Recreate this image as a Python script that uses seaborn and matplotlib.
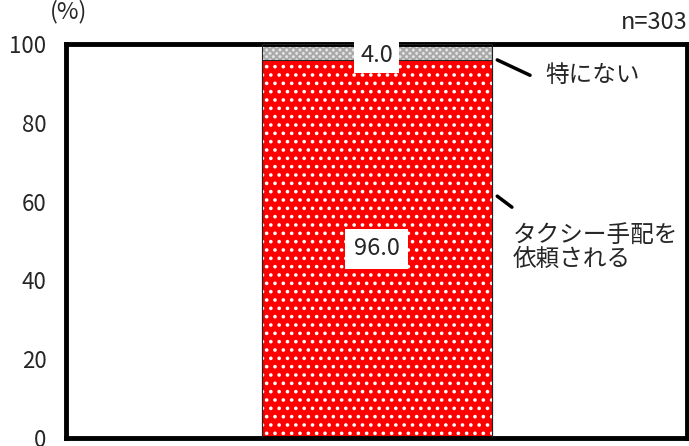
import numpy as np
import pandas as pd
import matplotlib
matplotlib.use("Agg")
import matplotlib.pyplot as plt
import seaborn as sns

# data
categories = [""]
taxi = [96.0]
nothing = [4.0]
labels = ["タクシー手配を\n依頼される", "特にない"]
n_text = "n=303"

sns.set_style("white")
plt.rcParams['font.family'] = ['Noto Sans CJK JP', 'DejaVu Sans']
plt.rcParams['hatch.linewidth'] = 1.4

df = pd.DataFrame({"cat": categories,
                   "taxi": taxi,
                   "total": np.array(taxi) + np.array(nothing)})

fig = plt.figure(figsize=(6.89, 4.46), dpi=100)
ax = fig.add_axes([0.0958, 0.018, 0.9013, 0.883])

# top segment (total) in gray check, then red dotted
sns.barplot(data=df, x="cat", y="total", ax=ax, color="#e4e4e4", width=0.8,
            saturation=1, edgecolor="#a8a8a8", hatch="xxxxx", linewidth=0)
sns.barplot(data=df, x="cat", y="taxi", ax=ax, color="#ff0000", width=0.8,
            saturation=1, edgecolor="white", hatch="..", linewidth=0)
for p in ax.patches:
    ax.add_patch(plt.Rectangle((p.get_x(), p.get_y()), p.get_width(), p.get_height(),
                               fill=False, edgecolor="#222222", linewidth=0.8, zorder=3))

ax.set_xlim(-1.08, 1.08)
ax.set_ylim(0, 100)
ax.set_yticks([0, 20, 40, 60, 80, 100])
ax.set_xticks([])
ax.set_xlabel("")
ax.set_ylabel("")
ax.tick_params(axis="y", labelsize=16, length=0, pad=14)
for s in ax.spines.values():
    s.set_linewidth(3.5)
    s.set_color("black")

ax.text(0, 97.0, f"{nothing[0]:.1f}", ha="center", va="center",
        fontsize=17, bbox=dict(boxstyle="square,pad=0.25", facecolor="white", edgecolor="none"), zorder=5)
ax.text(0, taxi[0] / 2, f"{taxi[0]:.1f}", ha="center", va="center",
        fontsize=17, bbox=dict(boxstyle="square,pad=0.35", facecolor="white", edgecolor="none"), zorder=5)

# callouts
ax.plot([0.42, 0.534], [96.0, 92.1], color="black", lw=2.5, zorder=5)
ax.text(0.586, 92.1, labels[1], ha="left", va="center", fontsize=17)
ax.plot([0.42, 0.471], [61.4, 58.6], color="black", lw=2.5, zorder=5)
ax.text(0.475, 48.3, labels[0], ha="left", va="center", fontsize=17, linespacing=1.0)

fig.text(0.072, 1.0, "(%)", ha="left", va="top", fontsize=17)
fig.text(0.998, 0.975, n_text, ha="right", va="top", fontsize=17)

fig.savefig("out.png", dpi=100)
